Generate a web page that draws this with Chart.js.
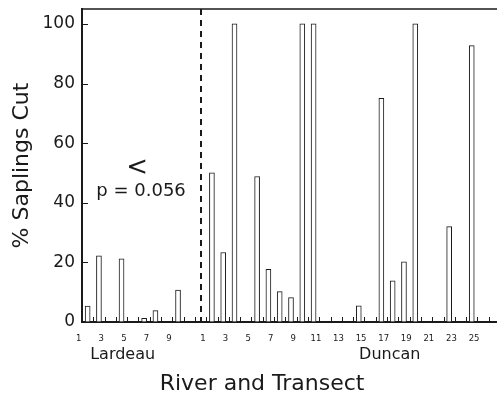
<!DOCTYPE html>
<html>
<head>
<meta charset="utf-8">
<script src="https://cdn.jsdelivr.net/npm/chart.js@4.4.1/dist/chart.umd.min.js"></script>
<style>
html, body { margin: 0; padding: 0; background: #fff; overflow: hidden; }
#wrap { position: relative; width: 500px; height: 400px; }
</style>
</head>
<body>
<div id="wrap"><canvas id="sapChart"></canvas></div>
<script>
//	Transects along each river, one empty slot between the rivers
var lardeauTransects = ['1', '2', '3', '4', '5', '6', '7', '8', '9', '10'];
var duncanTransects = ['1', '2', '3', '4', '5', '6', '7', '8', '9', '10', '11', '12', '13',
	'14', '15', '16', '17', '18', '19', '20', '21', '22', '23', '24', '25', '26'];
//	% saplings cut per transect
var lardeauCut = [5.3, 22.2, 0, 21.2, 0, 1.2, 3.8, 0, 10.7, 0];
var duncanCut = [50, 23.3, 100, 0, 48.8, 17.7, 10.2, 8.2, 100, 100, 0, 0, 0,
	5.4, 0, 75, 13.8, 20.2, 100, 0, 0, 32, 0, 92.7, 0, 0];
var yTicks = [0, 20, 40, 60, 80, 100];
var riverNames = ['Lardeau', 'Duncan'];
var testLabel = 'p = 0.056';

var FONT = "'DejaVu Sans', sans-serif";
var INK = '#1a1a1a';

var slotLabels = lardeauTransects.concat(['']).concat(duncanTransects);
var slotValues = lardeauCut.concat([null]).concat(duncanCut);

/**
 *	Inward ticks, top frame, dashed river divider and the free text
 */
var extras = {
	id: 'extras',
	afterDatasetsDraw: function (chart) {
		var ctx = chart.ctx;
		var a = chart.chartArea;
		var x = chart.scales.x;
		var y = chart.scales.y;
		ctx.save();
		ctx.strokeStyle = INK;
		ctx.lineWidth = 1;
		ctx.beginPath();
		for (let i = 1; i < slotLabels.length; i++) {
			var px = Math.round(x.getPixelForValue(i - 0.5)) + 0.5;
			ctx.moveTo(px, a.bottom);
			ctx.lineTo(px, a.bottom - 5);
		}
		yTicks.forEach(function (v) {
			var py = Math.round(y.getPixelForValue(v)) + 0.5;
			ctx.moveTo(a.left, py);
			ctx.lineTo(a.left + 6, py);
		});
		ctx.stroke();

		//	top frame line
		ctx.lineWidth = 1.5;
		ctx.beginPath();
		ctx.moveTo(a.left, a.top);
		ctx.lineTo(a.right, a.top);
		ctx.stroke();

		//	dashed line in the empty slot between the rivers
		var gx = Math.round(x.getPixelForValue(lardeauTransects.length));
		ctx.setLineDash([6, 5]);
		ctx.lineWidth = 2;
		ctx.beginPath();
		ctx.moveTo(gx, a.top);
		ctx.lineTo(gx, a.bottom);
		ctx.stroke();
		ctx.setLineDash([]);

		//	text
		ctx.fillStyle = INK;
		ctx.textAlign = 'center';
		ctx.textBaseline = 'middle';
		ctx.font = '16px ' + FONT;
		ctx.fillText(riverNames[0], x.getPixelForValue(3.1), a.bottom + 33);
		ctx.fillText(riverNames[1], x.getPixelForValue(26.74), a.bottom + 33);
		ctx.font = '22px ' + FONT;
		ctx.fillText('River and Transect', x.getPixelForValue(15.44), a.bottom + 62);
		ctx.font = '18px ' + FONT;
		ctx.fillText(testLabel, x.getPixelForValue(4.73), y.getPixelForValue(43.7));
		ctx.font = '26px ' + FONT;
		ctx.fillText('<', x.getPixelForValue(4.37), y.getPixelForValue(51.5));
		ctx.restore();
	}
};

var ctx = document.getElementById('sapChart');
var sapChart = new Chart(ctx, {
	type: 'bar',
	data: {
		labels: slotLabels,
		datasets: [{
			data: slotValues,
			backgroundColor: '#ffffff',
			borderColor: INK,
			borderWidth: 1,
			barThickness: 5
		}]
	},
	options: {
		responsive: true,
		maintainAspectRatio: false,
		animation: false,
		layout: {
			autoPadding: false,
			padding: { top: 9, left: 0, right: 0, bottom: 0 }
		},
		plugins: {
			legend: { display: false },
			tooltip: { enabled: false }
		},
		scales: {
			x: {
				grid: { display: true, drawOnChartArea: false, drawTicks: false },
				border: { display: true, color: INK, width: 2 },
				ticks: {
					autoSkip: false,
					maxRotation: 0,
					padding: 12,
					labelOffset: -9,
					color: INK,
					font: { family: FONT, size: 8.5 },
					callback: function (v) {
						var l = this.getLabelForValue(v);
						return (l !== '' && Number(l) % 2 === 1) ? l : '';
					}
				},
				afterFit: function (scale) {
					scale.height = 78;
					scale.paddingLeft = 0;
					scale.paddingRight = 0;
				}
			},
			y: {
				min: 0,
				max: 105,
				grid: { display: true, drawOnChartArea: false, drawTicks: false },
				border: { display: true, color: INK, width: 2 },
				ticks: {
					padding: 7,
					color: INK,
					font: { family: FONT, size: 17 }
				},
				afterBuildTicks: function (scale) {
					scale.ticks = yTicks.map(function (v) {
						return { value: v };
					});
				},
				afterFit: function (scale) {
					scale.width = 82;
					scale.paddingTop = 0;
					scale.paddingBottom = 0;
				},
				title: {
					display: true,
					text: '% Saplings Cut',
					color: INK,
					font: { family: FONT, size: 22 },
					padding: { top: 9, bottom: 0 }
				}
			}
		}
	},
	plugins: [extras]
});
</script>
</body>
</html>
